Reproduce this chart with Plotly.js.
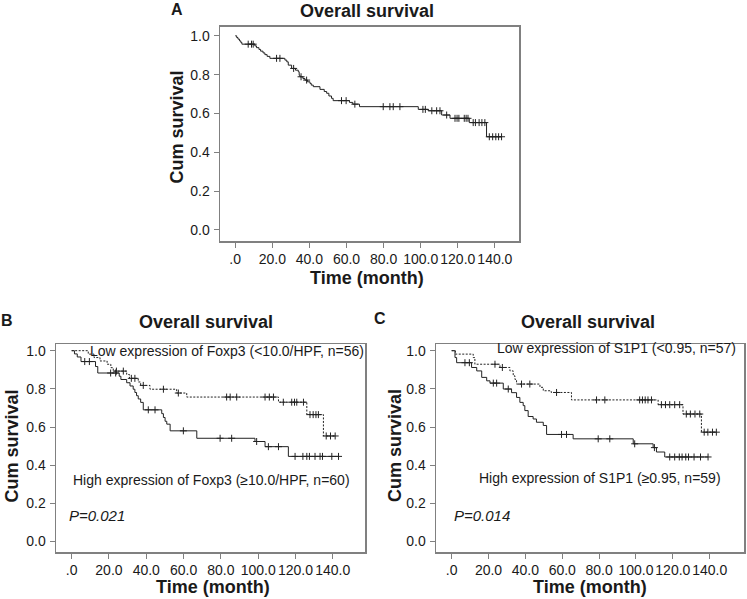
<!DOCTYPE html>
<html><head><meta charset="utf-8">
<script src="https://cdn.plot.ly/plotly-3.0.1.min.js"></script>
<style>body{margin:0;background:#fff}#chart{width:747px;height:599px}</style>
</head><body><div id="chart"></div>
<script>
// ---------- data ----------
const xTickVals = [0, 20, 40, 60, 80, 100, 120, 140];
const xTickText = ['.0', '20.0', '40.0', '60.0', '80.0', '100.0', '120.0', '140.0'];
const yTickVals = [0, 0.2, 0.4, 0.6, 0.8, 1.0];
const yTickText = ['0.0', '0.2', '0.4', '0.6', '0.8', '1.0'];

// Panel A: overall survival
const aTime = [0,0.8,1.5,2.3,3.0,3.6,10.6,11.5,12.8,13.7,15.0,16.0,17.2,18.7,26.8,27.8,28.6,30.4,32.5,34.0,34.5,34.9,36.5,37.6,39.0,40.3,41.0,42.1,45.7,48.0,49.3,50.5,51.9,52.8,61.6,63.4,67.0,98.7,104.0,111.3,115.8,126.2,135.5,143.6];
const aSurv = [1.0,0.991,0.983,0.974,0.966,0.957,0.948,0.939,0.930,0.921,0.912,0.903,0.894,0.884,0.875,0.866,0.849,0.832,0.823,0.815,0.797,0.789,0.780,0.772,0.763,0.755,0.746,0.738,0.724,0.713,0.704,0.690,0.678,0.666,0.657,0.648,0.635,0.621,0.614,0.592,0.575,0.553,0.480,0.480];
const aCensT = [7.0,8.8,9.7,22.3,24.1,31.5,35.5,38.5,57.3,59.8,64.5,79.8,83.4,85.2,88.8,101.2,102.5,106.0,108.6,110.4,114.0,118.5,119.6,120.6,123.5,124.5,125.5,128.3,129.5,131.5,133.0,134.6,137.0,138.8,140.5,142.0,143.6];
const aCensS = [0.957,0.957,0.957,0.884,0.884,0.832,0.789,0.772,0.666,0.666,0.648,0.635,0.635,0.635,0.635,0.621,0.621,0.614,0.614,0.614,0.592,0.575,0.575,0.575,0.575,0.575,0.575,0.553,0.553,0.553,0.553,0.553,0.480,0.480,0.480,0.480,0.480];

// Panel B: Foxp3
const bLowTime = [0,8.9,12.0,15.2,19.0,21.0,22.3,29.5,31.0,35.7,37.0,42.0,56.3,61.7,110.9,126.1,135.0,141.3];
const bLowSurv = [1.0,0.982,0.964,0.946,0.929,0.911,0.893,0.875,0.855,0.836,0.818,0.798,0.778,0.757,0.730,0.665,0.553,0.553];
const bLowCensT = [24.0,27.7,32.0,33.9,38.4,49.2,57.2,83.1,85.0,88.5,103.7,106.0,108.2,113.5,118.0,119.5,120.7,124.3,127.8,129.5,131.0,132.3,136.5,138.8,141.3];
const bLowCensS = [0.893,0.893,0.855,0.855,0.818,0.798,0.778,0.757,0.757,0.757,0.757,0.757,0.757,0.730,0.730,0.730,0.730,0.730,0.665,0.665,0.665,0.665,0.553,0.553,0.553];
const bHighTime = [0,1.5,3.0,5.0,12.8,14.0,25.5,26.4,29.5,31.3,33.0,33.9,34.8,35.7,37.0,38.4,48.3,49.2,50.1,51.0,52.8,67.1,98.3,103.7,116.2,143.1];
const bHighSurv = [1.0,0.983,0.967,0.943,0.917,0.883,0.866,0.849,0.832,0.815,0.798,0.781,0.764,0.747,0.729,0.690,0.670,0.650,0.630,0.615,0.580,0.541,0.524,0.497,0.446,0.446];
const bHighCensT = [7.0,9.5,20.9,23.6,41.1,44.7,59.9,79.6,85.8,99.2,105.5,110.9,119.8,124.0,126.1,127.5,130.5,133.2,134.5,139.5,143.1];
const bHighCensS = [0.943,0.943,0.883,0.883,0.690,0.690,0.580,0.541,0.541,0.524,0.497,0.497,0.446,0.446,0.446,0.446,0.446,0.446,0.446,0.446,0.446];

// Panel C: S1P1
const cLowTime = [0,2.0,11.7,12.6,26.2,31.6,33.4,34.3,35.2,47.9,49.7,54.0,65.0,112.0,125.5,135.5,143.6];
const cLowSurv = [1.0,0.982,0.964,0.929,0.912,0.894,0.868,0.850,0.825,0.808,0.790,0.781,0.742,0.717,0.668,0.573,0.573];
const cLowCensT = [23.5,27.5,37.9,42.4,56.9,78.6,83.1,102.0,103.5,105.0,106.5,108.4,113.8,116.0,118.3,121.0,123.7,127.3,129.5,132.0,134.6,137.0,139.0,141.5,143.6];
const cLowCensS = [0.929,0.912,0.825,0.825,0.781,0.742,0.742,0.742,0.742,0.742,0.742,0.742,0.717,0.717,0.717,0.717,0.717,0.668,0.668,0.668,0.668,0.573,0.573,0.573,0.573];
const cHighTime = [0,1.8,2.7,10.8,13.6,16.3,19.0,20.8,28.0,32.5,35.2,37.0,38.8,39.7,41.5,44.2,46.0,49.7,51.5,65.9,98.5,109.3,111.1,115.6,139.1];
const cHighSurv = [1.0,0.964,0.937,0.912,0.894,0.860,0.842,0.830,0.799,0.780,0.755,0.729,0.712,0.686,0.655,0.642,0.625,0.608,0.561,0.538,0.512,0.492,0.469,0.443,0.443];
const cHighCensT = [7.2,9.6,22.6,24.4,30.7,59.6,62.3,79.5,85.8,99.3,110.0,118.3,121.0,123.5,125.0,127.0,128.5,131.5,135.0,139.1];
const cHighCensS = [0.937,0.937,0.830,0.830,0.799,0.561,0.561,0.538,0.538,0.512,0.492,0.443,0.443,0.443,0.443,0.443,0.443,0.443,0.443,0.443];

// ---------- drawing ----------
const W = 747, H = 599;
const px = v => v / W;
const py = v => 1 - v / H;
const FONT = 'Arial, "Liberation Sans", sans-serif';
const INK = '#1a1a1a';

function stepTrace(x, y, ax, dashed) {
  return { type: 'scatter', mode: 'lines', x: x, y: y, xaxis: 'x' + ax, yaxis: 'y' + ax,
    line: { shape: 'hv', color: '#222', width: 1, dash: dashed ? '2px,1.5px' : 'solid' },
    hoverinfo: 'skip', showlegend: false };
}
function censTrace(x, y, ax) {
  return { type: 'scatter', mode: 'markers', x: x, y: y, xaxis: 'x' + ax, yaxis: 'y' + ax,
    marker: { symbol: 'cross-thin', size: 5, line: { color: '#222', width: 1 } },
    hoverinfo: 'skip', showlegend: false };
}

const traces = [
  stepTrace(aTime, aSurv, '', false), censTrace(aCensT, aCensS, ''),
  stepTrace(bLowTime, bLowSurv, '2', true), censTrace(bLowCensT, bLowCensS, '2'),
  stepTrace(bHighTime, bHighSurv, '2', false), censTrace(bHighCensT, bHighCensS, '2'),
  stepTrace(cLowTime, cLowSurv, '3', true), censTrace(cLowCensT, cLowCensS, '3'),
  stepTrace(cHighTime, cHighSurv, '3', false), censTrace(cHighCensT, cHighCensS, '3')
];

const axBase = {
  showline: true, mirror: true, linecolor: '#808080', linewidth: 1.5,
  ticks: 'outside', ticklen: 5, tickwidth: 1, tickcolor: '#808080',
  showgrid: false, zeroline: false, fixedrange: true, tickangle: 0,
  tickfont: { family: FONT, size: 14, color: INK }
};
function xAx(l, r, range, anchor) {
  return Object.assign({}, axBase, { domain: [px(l), px(r)], range: range, anchor: anchor,
    tickmode: 'array', tickvals: xTickVals, ticktext: xTickText });
}
function yAx(top, bottom, range, anchor) {
  return Object.assign({}, axBase, { domain: [py(bottom), py(top)], range: range, anchor: anchor,
    tickmode: 'array', tickvals: yTickVals, ticktext: yTickText, ticklabelstandoff: 1 });
}

function txt(text, x, y, size, opts) {
  return Object.assign({ xref: 'paper', yref: 'paper', x: px(x), y: py(y), text: text,
    showarrow: false, xanchor: 'center', yanchor: 'middle',
    font: { family: FONT, size: size, color: INK } }, opts || {});
}

const annotations = [
  // panel letters
  txt('<b>A</b>', 177, 9, 16), txt('<b>B</b>', 7, 320, 16), txt('<b>C</b>', 380, 318, 16),
  // panel titles
  txt('<b>Overall survival</b>', 367, 11, 18),
  txt('<b>Overall survival</b>', 206, 322, 18),
  txt('<b>Overall survival</b>', 588, 322, 18),
  // axis titles
  txt('<b>Cum survival</b>', 176.5, 127, 18, { textangle: -90 }),
  txt('<b>Time (month)</b>', 367, 278, 18),
  txt('<b>Cum survival</b>', 11.5, 446, 18, { textangle: -90 }),
  txt('<b>Time (month)</b>', 213, 587, 18),
  txt('<b>Cum survival</b>', 395, 446, 18, { textangle: -90 }),
  txt('<b>Time (month)</b>', 590, 587, 18),
  // group labels
  txt('Low expression of Foxp3 (<10.0/HPF, n=56)', 88, 351, 14, { xanchor: 'left' }),
  txt('High expression of Foxp3 (≥10.0/HPF, n=60)', 71, 480, 14, { xanchor: 'left' }),
  txt('<i>P=0.021</i>', 67, 515, 15, { xanchor: 'left' }),
  txt('Low expression of S1P1 (<0.95, n=57)', 495, 348, 14, { xanchor: 'left' }),
  txt('High expression of S1P1 (≥0.95, n=59)', 477, 478, 14, { xanchor: 'left' }),
  txt('<i>P=0.014</i>', 452, 515, 15, { xanchor: 'left' })
];

const layout = {
  width: W, height: H, margin: { l: 0, r: 0, t: 0, b: 0 },
  paper_bgcolor: '#fff', plot_bgcolor: '#fff', showlegend: false,
  font: { family: FONT, color: INK },
  xaxis: xAx(220, 519, [-8.2, 153], 'y'),
  yaxis: yAx(26.5, 241, [-0.057, 1.048], 'x'),
  xaxis2: xAx(56, 365, [-8.4, 157.3], 'y2'),
  yaxis2: yAx(344, 552, [-0.055, 1.035], 'x2'),
  xaxis3: xAx(436, 744, [-8.5, 158.6], 'y3'),
  yaxis3: yAx(344, 552, [-0.055, 1.035], 'x3'),
  annotations: annotations
};

Plotly.newPlot('chart', traces, layout, { staticPlot: true, displayModeBar: false });
</script></body></html>
